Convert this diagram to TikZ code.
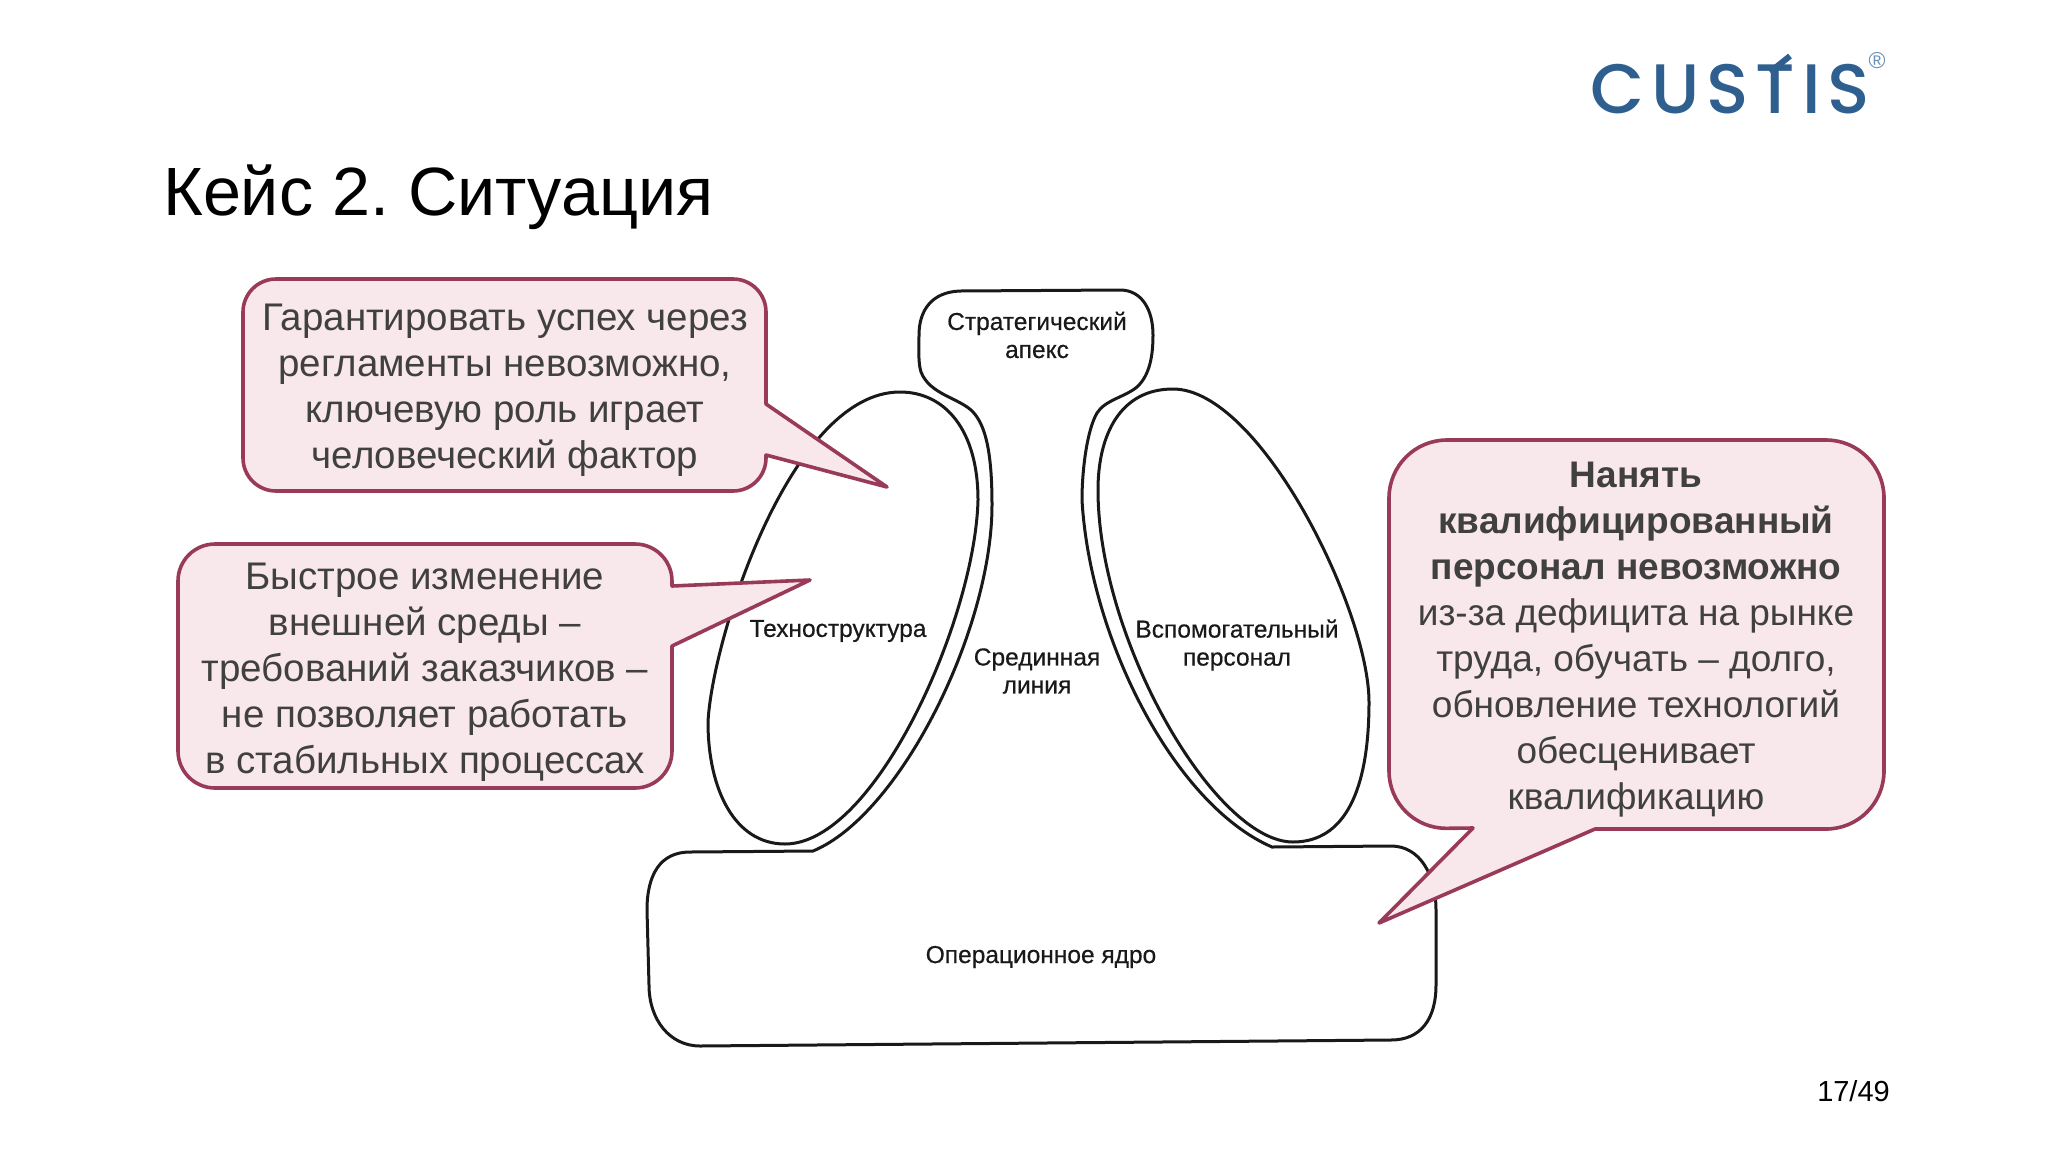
\documentclass[tikz,border=0pt]{standalone}
\usepackage{fontspec}
\setmainfont{Liberation Sans}
\newfontfamily\logofont[LetterSpace=10]{Poppins Medium}
\newfontfamily\scanfont[FakeBold=0.5]{Liberation Sans}
\usepackage{xcolor}
\usetikzlibrary{positioning}
\definecolor{bubbleline}{HTML}{983A58}
\definecolor{bubblefill}{HTML}{F9E8EB}
\definecolor{bubbleink}{HTML}{404040}
\definecolor{logoblue}{HTML}{2F5F8F}
\frenchspacing
\tikzset{%
	bubble/.style    = {draw=bubbleline, fill=bubblefill, line width=3.6pt, line join=round}, % Callout
	bubbletext/.style = {align=center, text=bubbleink, inner sep=0pt, font=\fontsize{38.5}{46}\selectfont},
	lobe/.style      = {draw=black!90, line width=3pt},
	scanlabel/.style = {align=center, text=black!90, inner sep=0pt, font=\fontsize{24.5}{28}\scanfont\selectfont},
	logoletter/.style = {text=logoblue, inner sep=0pt, font=\fontsize{70}{70}\logofont\selectfont},
}

\begin{document}
\begin{tikzpicture}[x=1pt,y=-1pt]
		\useasboundingbox (0,0) rectangle (2048,1152);
		\node[anchor=base west,inner sep=0pt,font=\fontsize{68.3}{70}\selectfont] (title) at (163,215) {Кейс 2. Ситуация};
		\node[anchor=base east,inner sep=0pt,font=\fontsize{29}{32}\selectfont] (page) at (1890,1101) {17/49};
		% logo
		\node[logoletter,anchor=base west] (logo) at (1590,113) {CUSTIS};
		\coordinate (armstart) at (1770,72);
		\coordinate (armend) at (1790,56);
		\draw[logoblue,line width=6pt] (armstart) -- (armend);
		\node[text=logoblue!70,inner sep=0pt,font=\fontsize{23}{23}\selectfont] (reg) at (1877,61) {®};
		% outer contour with the apex and the core
		\draw[lobe] (960,291) -- (1120,290) .. controls (1142,290) and (1153,310) .. (1153,335)
			.. controls (1153,355) and (1150,375) .. (1137,387) .. controls (1125,397) and (1105,400) .. (1097,413)
			.. controls (1087,430) and (1082,470) .. (1082,500) .. controls (1090,640) and (1175,805) .. (1272,847) -- (1391,846)
			.. controls (1420,846) and (1436,875) .. (1436,910) -- (1436,985)
			.. controls (1436,1020) and (1420,1040) .. (1391,1040) -- (700,1046)
			.. controls (670,1046) and (649,1020) .. (649,985) -- (647,910)
			.. controls (647,875) and (660,852) .. (690,852) -- (813,851)
			.. controls (900,815) and (992,630) .. (992,505) .. controls (992,450) and (985,425) .. (973,412)
			.. controls (960,398) and (930,395) .. (921,372) .. controls (918,362) and (919,350) .. (919,335)
			.. controls (919,310) and (932,292) .. (960,291) -- cycle;
		% left lobe
		\draw[lobe] (900,392) .. controls (945,392) and (978,430) .. (978,500)
			.. controls (975,620) and (875,844) .. (785,844) .. controls (735,844) and (708,790) .. (708,722)
			.. controls (712,640) and (790,392) .. (900,392) -- cycle;
		% right lobe
		\draw[lobe] (1173,389) .. controls (1260,389) and (1369,610) .. (1369,702)
			.. controls (1369,790) and (1345,842) .. (1293,842) .. controls (1215,842) and (1098,640) .. (1098,490)
			.. controls (1098,435) and (1120,389) .. (1173,389) -- cycle;
		\node[scanlabel] (apex) at (1037,335) {Стратегический\\апекс};
		\node[scanlabel] (techno) at (838,631) {Техноструктура};
		\node[scanlabel] (midline) at (1037,671) {Срединная\\линия};
		\node[scanlabel] (support) at (1237,645) {Вспомогательный\\персонал};
		\node[scanlabel] (core) at (1041,957) {Операционное ядро};
		% callouts
		\draw[bubble] (500,279) [rounded corners=33pt] -- (766,279) [sharp corners] -- (766,404) -- (887,487) -- (766,455) [rounded corners=33pt] -- (766,491) -- (243,491) -- (243,279) -- cycle;
		\draw[bubble] (400,544) [rounded corners=37pt] -- (672,544) [sharp corners] -- (672,586) -- (810,580) -- (672,646) [rounded corners=37pt] -- (672,788) -- (178,788) -- (178,544) -- cycle;
		\draw[bubble] (1600,440) [rounded corners=58pt] -- (1884,440) -- (1884,829) [sharp corners] -- (1595,829) -- (1379,923) -- (1473,828) [rounded corners=58pt] -- (1389,829) -- (1389,440) -- cycle;
		\node[bubbletext] (human) at (505,390) {Гарантировать успех через\\регламенты невозможно,\\ключевую роль играет\\человеческий фактор};
		\node[bubbletext] (change) at (425,672) {Быстрое изменение\\внешней среды –\\требований заказчиков –\\не позволяет работать\\в стабильных процессах};
		\node[bubbletext,font=\fontsize{37}{46}\selectfont] (hire) at (1636,640) {\textbf{Нанять}\\\textbf{квалифицированный}\\\textbf{персонал невозможно}\\из-за дефицита на рынке\\труда, обучать – долго,\\обновление технологий\\обесценивает\\квалификацию};
		\end{tikzpicture}
\end{document}
